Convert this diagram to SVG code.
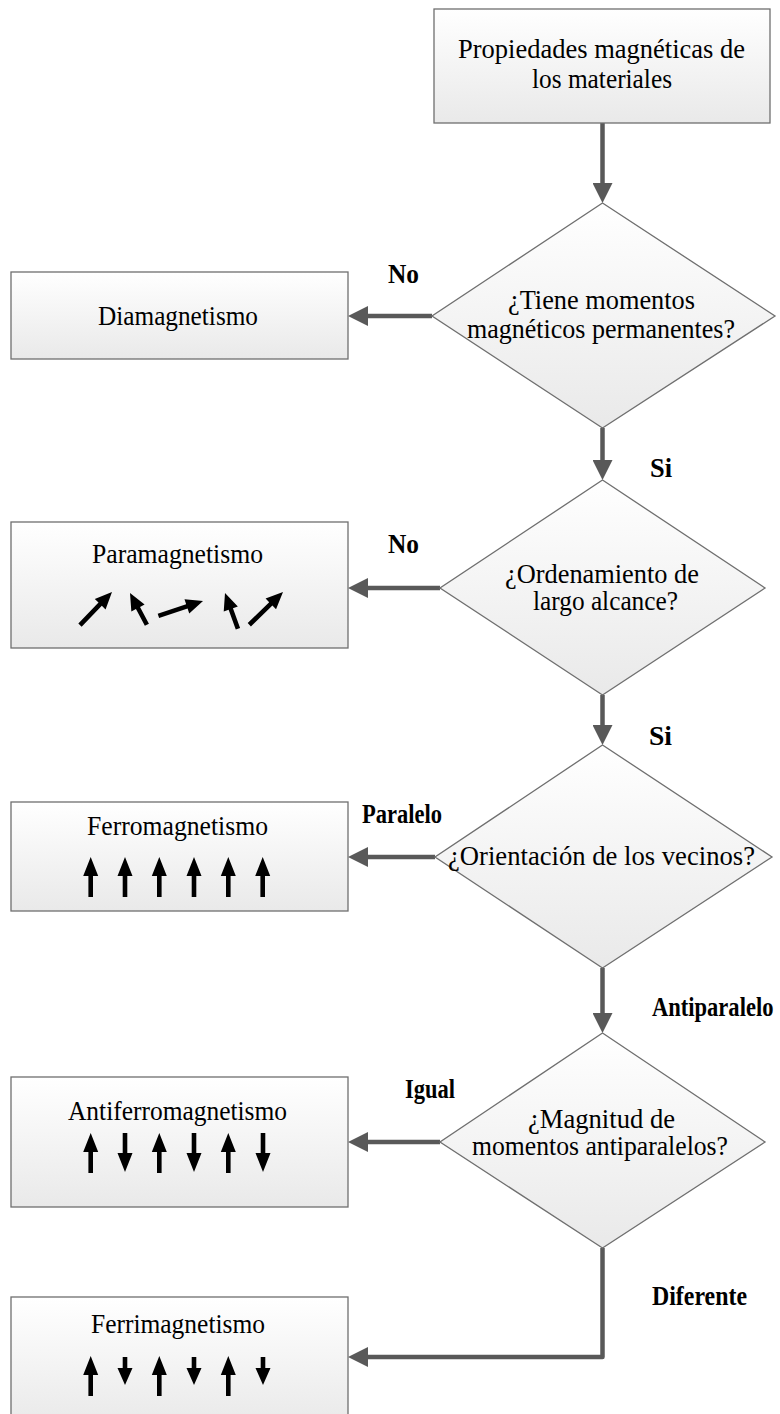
<svg xmlns="http://www.w3.org/2000/svg" width="780" height="1414" viewBox="0 0 780 1414">
<style>
.box{fill:url(#gr);stroke:#6f6f6f;stroke-width:1.3}
.t{font-family:"Liberation Serif","Times New Roman",serif;font-size:27px;fill:#000}
.l{font-family:"Liberation Serif","Times New Roman",serif;font-size:27px;font-weight:bold;fill:#000}
.c{fill:none;stroke:#595959;stroke-width:4.5;stroke-linejoin:round;marker-end:url(#ah)}
.m{fill:#000}
</style>
<defs>
<linearGradient id="gr" x1="0" y1="0" x2="0" y2="1">
<stop offset="0" stop-color="#ffffff"/>
<stop offset="1" stop-color="#e9e9e9"/>
</linearGradient>
<marker id="ah" markerUnits="userSpaceOnUse" markerWidth="20" markerHeight="20" viewBox="0 0 20 20" refX="3" refY="10" orient="auto">
<path d="M0,0 L20,10 L0,20 Z" fill="#595959"/>
</marker>
<path id="up40" d="M0,0 L7.5,19 L2.3,19 L2.3,40 L-2.3,40 L-2.3,19 L-7.5,19 Z"/>
<path id="dn39" d="M0,0 L7.5,-19 L2.3,-19 L2.3,-39 L-2.3,-39 L-2.3,-19 L-7.5,-19 Z"/>
<path id="dn28" d="M0,0 L7.5,-17 L2.3,-17 L2.3,-28 L-2.3,-28 L-2.3,-17 L-7.5,-17 Z"/>
</defs>

<g id="connectors">
<path class="c" d="M602.5,123 V186"/>
<path class="c" d="M432,316 H365"/>
<path class="c" d="M602.5,428 V463"/>
<path class="c" d="M440,588 H365"/>
<path class="c" d="M602.5,695 V728"/>
<path class="c" d="M435,857 H365"/>
<path class="c" d="M602.5,968 V1016"/>
<path class="c" d="M440,1142 H365"/>
<path class="c" d="M602.5,1248 V1357 H365"/>
</g>

<g id="labels">
<text class="l" x="388" y="283" textLength="31" lengthAdjust="spacingAndGlyphs">No</text>
<text class="l" x="650" y="477" textLength="22" lengthAdjust="spacingAndGlyphs">Si</text>
<text class="l" x="388" y="553" textLength="31" lengthAdjust="spacingAndGlyphs">No</text>
<text class="l" x="649" y="745" textLength="23" lengthAdjust="spacingAndGlyphs">Si</text>
<text class="l" x="362" y="823" textLength="80" lengthAdjust="spacingAndGlyphs">Paralelo</text>
<text class="l" transform="translate(652,1016) scale(0.835,1)">Antiparalelo</text>
<text class="l" x="405" y="1098" textLength="50" lengthAdjust="spacingAndGlyphs">Igual</text>
<text class="l" x="652" y="1305" textLength="95" lengthAdjust="spacingAndGlyphs">Diferente</text>
</g>

<g id="start">
<rect class="box" x="434" y="9" width="336" height="114"/>
<text class="t" x="458" y="58" textLength="287" lengthAdjust="spacingAndGlyphs">Propiedades magnéticas de</text>
<text class="t" x="532" y="88" textLength="140" lengthAdjust="spacingAndGlyphs">los materiales</text>
</g>

<g id="q1">
<polygon class="box" points="602.5,203 775,316 602.5,428 432,316"/>
<text class="t" x="508" y="309" textLength="187" lengthAdjust="spacingAndGlyphs">¿Tiene momentos</text>
<text class="t" x="467" y="338" textLength="268" lengthAdjust="spacingAndGlyphs">magnéticos permanentes?</text>
</g>

<g id="diamagnetismo">
<rect class="box" x="11" y="272" width="337" height="87"/>
<text class="t" x="98" y="325" textLength="160" lengthAdjust="spacingAndGlyphs">Diamagnetismo</text>
</g>

<g id="q2">
<polygon class="box" points="602.5,480 765,588 602.5,695 440,588"/>
<text class="t" x="505" y="583" textLength="194" lengthAdjust="spacingAndGlyphs">¿Ordenamiento de</text>
<text class="t" x="533" y="610" textLength="145" lengthAdjust="spacingAndGlyphs">largo alcance?</text>
</g>

<g id="paramagnetismo">
<rect class="box" x="11" y="522" width="337" height="126"/>
<text class="t" x="92" y="563" textLength="171" lengthAdjust="spacingAndGlyphs">Paramagnetismo</text>
<path class="m" transform="translate(112,592) rotate(44.1)" d="M0,0 L7.5,17 L2.3,17 L2.3,46 L-2.3,46 L-2.3,17 L-7.5,17 Z"/>
<path class="m" transform="translate(130,593) rotate(-28)" d="M0,0 L7.5,17 L2.3,17 L2.3,36 L-2.3,36 L-2.3,17 L-7.5,17 Z"/>
<path class="m" transform="translate(203,601) rotate(71.6)" d="M0,0 L7.5,17 L2.3,17 L2.3,47 L-2.3,47 L-2.3,17 L-7.5,17 Z"/>
<path class="m" transform="translate(225,593) rotate(-19.9)" d="M0,0 L7.5,17 L2.3,17 L2.3,38 L-2.3,38 L-2.3,17 L-7.5,17 Z"/>
<path class="m" transform="translate(283,592) rotate(45.8)" d="M0,0 L7.5,17 L2.3,17 L2.3,47 L-2.3,47 L-2.3,17 L-7.5,17 Z"/>
</g>

<g id="q3">
<polygon class="box" points="602.5,745 772,857 602.5,968 435,857"/>
<text class="t" x="448" y="865" textLength="307" lengthAdjust="spacingAndGlyphs">¿Orientación de los vecinos?</text>
</g>

<g id="ferromagnetismo">
<rect class="box" x="11" y="802" width="337" height="109"/>
<text class="t" x="87" y="835" textLength="181" lengthAdjust="spacingAndGlyphs">Ferromagnetismo</text>
<use class="m" href="#up40" x="90.7" y="857"/>
<use class="m" href="#up40" x="125" y="857"/>
<use class="m" href="#up40" x="159.3" y="857"/>
<use class="m" href="#up40" x="194" y="857"/>
<use class="m" href="#up40" x="228.3" y="857"/>
<use class="m" href="#up40" x="262.7" y="857"/>
</g>

<g id="q4">
<polygon class="box" points="602.5,1033 765,1142 602.5,1248 440,1142"/>
<text class="t" x="528" y="1128" textLength="147" lengthAdjust="spacingAndGlyphs">¿Magnitud de</text>
<text class="t" x="472" y="1155" textLength="256" lengthAdjust="spacingAndGlyphs">momentos antiparalelos?</text>
</g>

<g id="antiferromagnetismo">
<rect class="box" x="11" y="1077" width="337" height="130"/>
<text class="t" x="68" y="1120" textLength="219" lengthAdjust="spacingAndGlyphs">Antiferromagnetismo</text>
<use class="m" href="#up40" x="90.7" y="1133"/>
<use class="m" href="#dn39" x="125" y="1172"/>
<use class="m" href="#up40" x="159.3" y="1133"/>
<use class="m" href="#dn39" x="194" y="1172"/>
<use class="m" href="#up40" x="228.3" y="1133"/>
<use class="m" href="#dn39" x="263" y="1172"/>
</g>

<g id="ferrimagnetismo">
<rect class="box" x="11" y="1297" width="337" height="130"/>
<text class="t" x="91" y="1333" textLength="174" lengthAdjust="spacingAndGlyphs">Ferrimagnetismo</text>
<use class="m" href="#up40" x="90.7" y="1356"/>
<use class="m" href="#dn28" x="125" y="1385"/>
<use class="m" href="#up40" x="159.3" y="1356"/>
<use class="m" href="#dn28" x="194" y="1385"/>
<use class="m" href="#up40" x="228.3" y="1356"/>
<use class="m" href="#dn28" x="263" y="1385"/>
</g>
</svg>
